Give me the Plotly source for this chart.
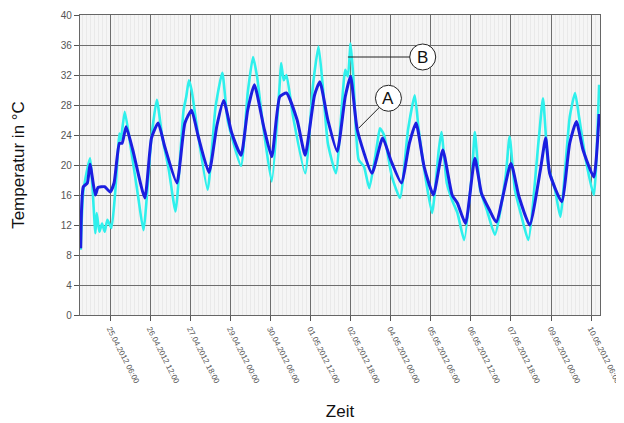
import plotly.graph_objects as go

# Series A (dark blue)
time_a = [
    "2012-04-24 08:00", "2012-04-24 10:00", "2012-04-24 13:00", "2012-04-24 15:00",
    "2012-04-24 19:00", "2012-04-24 21:00", "2012-04-25 02:00", "2012-04-25 06:00",
    "2012-04-25 09:00", "2012-04-25 13:00", "2012-04-25 15:00", "2012-04-25 18:00",
    "2012-04-25 23:00", "2012-04-26 08:00", "2012-04-26 13:00", "2012-04-26 18:00",
    "2012-04-26 23:00", "2012-04-27 08:00", "2012-04-27 14:00", "2012-04-27 19:00",
    "2012-04-28 00:00", "2012-04-28 08:00", "2012-04-28 14:00", "2012-04-28 19:00",
    "2012-04-29 01:00", "2012-04-29 08:00", "2012-04-29 13:00", "2012-04-29 18:00",
    "2012-04-30 01:00", "2012-04-30 07:00", "2012-04-30 13:00", "2012-04-30 18:00",
    "2012-05-01 02:00", "2012-05-01 08:00", "2012-05-01 15:00", "2012-05-01 19:00",
    "2012-05-02 01:00", "2012-05-02 08:00", "2012-05-02 14:00", "2012-05-02 18:00",
    "2012-05-02 23:00", "2012-05-03 10:00", "2012-05-03 18:00", "2012-05-04 00:00",
    "2012-05-04 08:00", "2012-05-04 14:00", "2012-05-04 19:00", "2012-05-05 01:00",
    "2012-05-05 08:00", "2012-05-05 15:00", "2012-05-05 22:00", "2012-05-06 02:00",
    "2012-05-06 08:00", "2012-05-06 15:00", "2012-05-06 20:00", "2012-05-07 02:00",
    "2012-05-07 07:00", "2012-05-07 18:00", "2012-05-08 00:00", "2012-05-08 08:00",
    "2012-05-08 16:00", "2012-05-08 20:00", "2012-05-08 23:00", "2012-05-09 08:00",
    "2012-05-09 14:00", "2012-05-09 19:00", "2012-05-10 00:00", "2012-05-10 08:00",
    "2012-05-10 12:00",
]
temp_a = [
    8.9, 17.1, 17.6, 20.1,
    16.0, 17.0, 17.1, 16.4,
    17.6, 22.9, 22.9, 25.1,
    22.0, 15.6, 23.6, 25.6,
    22.4, 17.6, 25.6, 27.3,
    23.8, 19.0, 25.3, 28.6,
    24.3, 21.3, 27.3, 30.7,
    25.1, 21.1, 29.1, 29.6,
    26.0, 21.3, 29.3, 31.1,
    26.0, 21.8, 29.1, 31.8,
    24.7, 18.9, 23.6, 20.7,
    17.6, 22.9, 25.6, 19.8,
    16.0, 22.0, 16.0, 14.9,
    12.2, 20.9, 16.2, 14.0,
    12.4, 20.2, 15.8, 12.0,
    19.3, 23.6, 18.9, 15.1,
    22.9, 25.8, 22.0, 18.4,
    26.8,
]

# Series B (cyan)
time_b = [
    "2012-04-24 08:00", "2012-04-24 10:00", "2012-04-24 15:00", "2012-04-24 19:00",
    "2012-04-24 20:00", "2012-04-24 22:00", "2012-04-25 00:00", "2012-04-25 02:00",
    "2012-04-25 04:00", "2012-04-25 07:00", "2012-04-25 10:00", "2012-04-25 13:00",
    "2012-04-25 14:00", "2012-04-25 17:00", "2012-04-25 21:00", "2012-04-26 03:00",
    "2012-04-26 07:00", "2012-04-26 13:00", "2012-04-26 17:00", "2012-04-26 21:00",
    "2012-04-27 02:00", "2012-04-27 07:00", "2012-04-27 13:00", "2012-04-27 15:00",
    "2012-04-27 17:00", "2012-04-27 19:00", "2012-04-27 23:00", "2012-04-28 07:00",
    "2012-04-28 13:00", "2012-04-28 18:00", "2012-04-28 22:00", "2012-04-29 08:00",
    "2012-04-29 13:00", "2012-04-29 17:00", "2012-04-29 20:00", "2012-04-30 00:00",
    "2012-04-30 07:00", "2012-04-30 13:00", "2012-04-30 14:00", "2012-04-30 16:00",
    "2012-04-30 18:00", "2012-04-30 23:00", "2012-05-01 08:00", "2012-05-01 14:00",
    "2012-05-01 18:00", "2012-05-01 21:00", "2012-05-02 01:00", "2012-05-02 07:00",
    "2012-05-02 14:00", "2012-05-02 16:00", "2012-05-02 18:00", "2012-05-02 20:00",
    "2012-05-03 00:00", "2012-05-03 04:00", "2012-05-03 08:00", "2012-05-03 14:00",
    "2012-05-03 16:00", "2012-05-03 19:00", "2012-05-04 01:00", "2012-05-04 07:00",
    "2012-05-04 13:00", "2012-05-04 18:00", "2012-05-04 21:00", "2012-05-05 02:00",
    "2012-05-05 07:00", "2012-05-05 12:00", "2012-05-05 14:00", "2012-05-05 18:00",
    "2012-05-05 22:00", "2012-05-06 02:00", "2012-05-06 07:00", "2012-05-06 13:00",
    "2012-05-06 15:00", "2012-05-06 19:00", "2012-05-07 00:00", "2012-05-07 06:00",
    "2012-05-07 14:00", "2012-05-07 17:00", "2012-05-07 21:00", "2012-05-08 02:00",
    "2012-05-08 07:00", "2012-05-08 15:00", "2012-05-08 18:00", "2012-05-08 22:00",
    "2012-05-09 03:00", "2012-05-09 07:00", "2012-05-09 14:00", "2012-05-09 18:00",
    "2012-05-09 21:00", "2012-05-10 02:00", "2012-05-10 08:00", "2012-05-10 12:00",
]
temp_b = [
    8.7, 16.5, 20.9, 10.9,
    13.6, 11.1, 12.2, 11.1,
    12.7, 11.6, 16.7, 24.2,
    23.3, 27.1, 22.9, 15.8,
    11.3, 23.8, 28.7, 23.8,
    19.3, 13.8, 27.3, 29.1,
    31.3, 30.0, 25.1, 16.7,
    27.8, 32.3, 26.0, 19.9,
    29.6, 34.4, 31.8, 26.0,
    17.8, 30.9, 33.6, 31.3,
    32.0, 26.4, 18.9, 30.9,
    35.8, 30.9, 22.9, 18.9,
    32.7, 31.8, 36.2, 31.8,
    20.7, 19.8, 16.9, 22.9,
    24.9, 24.0, 18.4, 15.6,
    24.7, 29.3, 24.7, 18.4,
    13.6, 22.0, 24.4, 17.6,
    15.3, 13.6, 10.0, 19.3,
    24.4, 16.7, 14.0, 10.7,
    18.4, 23.8, 16.7, 13.1,
    10.0, 23.8, 28.9, 19.8,
    16.7, 13.1, 26.4, 29.6,
    26.4, 20.7, 16.0, 30.7,
]

y_ticks = [0, 4, 8, 12, 16, 20, 24, 28, 32, 36, 40]
x_range = ["2012-04-24 07:30", "2012-05-10 12:40"]

# Callout labels (letter, anchor point of leader line, circle centre)
label_b = ("B", "2012-05-02 16:00", 34.4, "2012-05-05 00:00", 34.4)
label_a = ("A", "2012-05-03 00:00", 24.9, "2012-05-03 22:20", 28.9)

fig = go.Figure()
fig.add_trace(go.Scatter(x=time_b, y=temp_b, mode="lines",
                         line=dict(color="#2ef0ec", width=2.6, shape="spline", smoothing=0.5),
                         name="B"))
fig.add_trace(go.Scatter(x=time_a, y=temp_a, mode="lines",
                         line=dict(color="#1c1ee0", width=3, shape="spline", smoothing=0.5),
                         name="A"))

shapes = []
annotations = []
for letter, lx, ly, cx, cy in (label_b, label_a):
    shapes.append(dict(type="line", xref="x", yref="y", x0=lx, y0=ly, x1=cx, y1=cy,
                       line=dict(color="#222222", width=1)))
    shapes.append(dict(type="circle", xref="x", yref="y", xsizemode="pixel",
                       ysizemode="pixel", xanchor=cx, yanchor=cy,
                       x0=-13, x1=13, y0=-13, y1=13,
                       fillcolor="white", line=dict(color="#222222", width=1)))
    annotations.append(dict(x=cx, y=cy, xref="x", yref="y", text=letter,
                            showarrow=False,
                            font=dict(family="Liberation Sans, Arial", size=17,
                                      color="#111111")))

fig.update_layout(
    width=624, height=423,
    margin=dict(l=72, r=32, t=7, b=116),
    paper_bgcolor="white",
    plot_bgcolor="#f5f5f5",
    showlegend=False,
    shapes=shapes,
    annotations=annotations,
    font=dict(family="Liberation Sans, Arial", color="#555555"),
)
fig.update_xaxes(
    type="date",
    range=x_range,
    automargin=False,
    tick0="2012-04-25 06:00",
    dtick=30 * 3600 * 1000,
    tickformat="%d.%m.%Y %H:%M",
    tickangle=63,
    tickfont=dict(size=8, color="#555555"),
    ticks="outside", ticklen=5, tickcolor="#555555",
    showgrid=True, gridcolor="#6e6e6e", gridwidth=1.3,
    minor=dict(dtick=3 * 3600 * 1000, showgrid=True, gridcolor="#e9e9e9", gridwidth=1),
    showline=True, linecolor="#666666", linewidth=1.3, mirror=True,
    title=dict(text="Zeit", font=dict(size=17, color="#111111"), standoff=20),
    zeroline=False,
)
fig.update_yaxes(
    range=[0, 40],
    automargin=False,
    tickvals=y_ticks,
    tickfont=dict(size=10, color="#555555"),
    ticks="outside", ticklen=5, tickcolor="#555555",
    showgrid=True, gridcolor="#6e6e6e", gridwidth=1.3,
    showline=True, linecolor="#666666", linewidth=1.3, mirror=True,
    title=dict(text="Temperatur in °C", font=dict(size=17, color="#111111"), standoff=31),
    zeroline=False,
)

fig.write_html("out.html")
